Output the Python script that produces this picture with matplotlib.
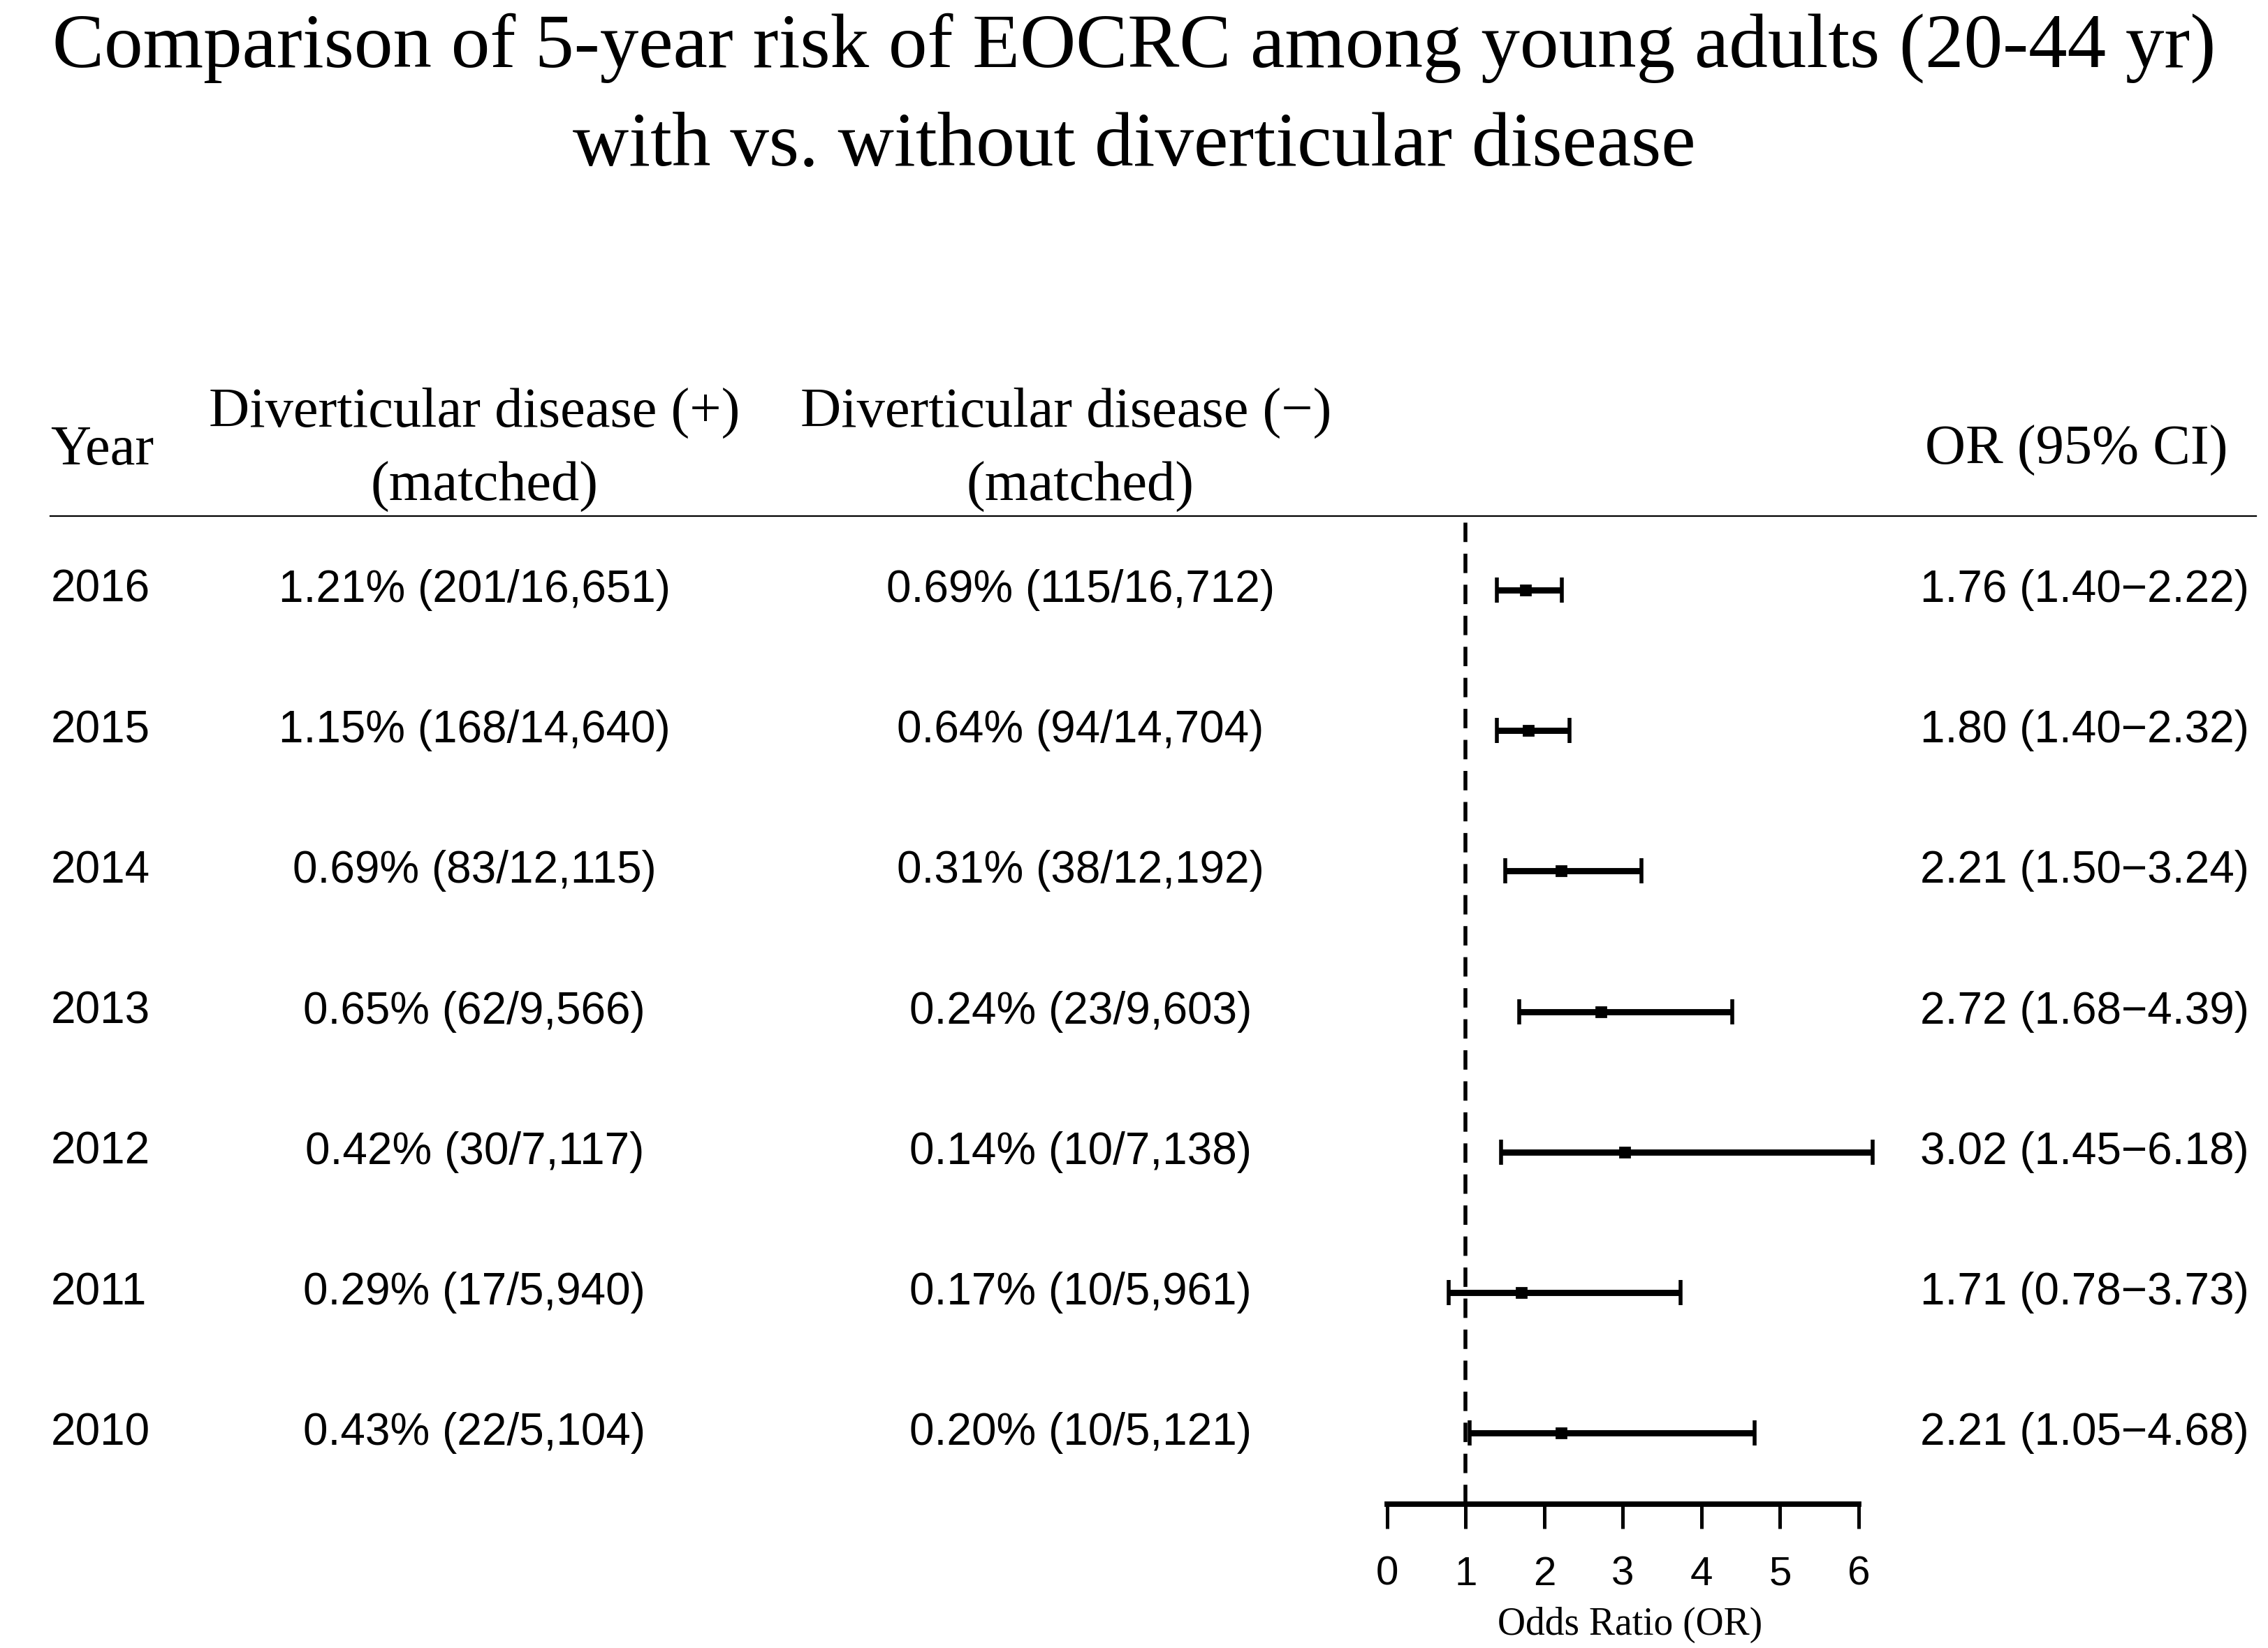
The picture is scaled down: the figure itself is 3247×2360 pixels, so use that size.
import numpy as np
import matplotlib
matplotlib.use("Agg")
import matplotlib.pyplot as plt

# data
years = ["2016", "2015", "2014", "2013", "2012", "2011", "2010"]
dd_pos = ["1.21% (201/16,651)", "1.15% (168/14,640)", "0.69% (83/12,115)",
          "0.65% (62/9,566)", "0.42% (30/7,117)", "0.29% (17/5,940)",
          "0.43% (22/5,104)"]
dd_neg = ["0.69% (115/16,712)", "0.64% (94/14,704)", "0.31% (38/12,192)",
          "0.24% (23/9,603)", "0.14% (10/7,138)", "0.17% (10/5,961)",
          "0.20% (10/5,121)"]
or_est = np.array([1.76, 1.80, 2.21, 2.72, 3.02, 1.71, 2.21])
ci_low = np.array([1.40, 1.40, 1.50, 1.68, 1.45, 0.78, 1.05])
ci_high = np.array([2.22, 2.32, 3.24, 4.39, 6.18, 3.73, 4.68])
or_ticks = [0, 1, 2, 3, 4, 5, 6]

title_lines = ["Comparison of 5-year risk of EOCRC among young adults (20-44 yr)",
               "with vs. without diverticular disease"]

SANS = "Liberation Sans"
SERIF = "Liberation Serif"

# layout measured on a 1568 x 1134 copy of the reference
W, H = 1568.0, 1134.0
row_top, row_step = 406.0, 96.7
n = len(years)
ypos = np.arange(n)[::-1]          # first year on top


def yv(p):
    # reference pixel row -> row units
    return (row_top + (n - 1) * row_step - p) / row_step


fig = plt.figure(figsize=(3247 / 200, 2360 / 200), dpi=200)

ax = fig.add_axes([0, 0, 1, 1])
ax.set_xlim(0, W)
ax.set_ylim(yv(H), yv(0))
ax.axis("off")

# title
ax.text(W / 2, yv(33), title_lines[0], ha="center", va="center",
        fontsize=40, family=SERIF)
ax.text(W / 2, yv(101), title_lines[1], ha="center", va="center",
        fontsize=40, family=SERIF)

# column headers
hdr = dict(fontsize=29, family=SERIF, va="center")
ax.text(35, yv(310), "Year", ha="left", **hdr)
ax.text(328, yv(284), "Diverticular disease (+)", ha="center", **hdr)
ax.text(335, yv(335), "(matched)", ha="center", **hdr)
ax.text(737, yv(284), "Diverticular disease (\u2212)", ha="center", **hdr)
ax.text(747, yv(335), "(matched)", ha="center", **hdr)
ax.text(1540, yv(310), "OR (95% CI)", ha="right", **hdr)
ax.axhline(yv(355), xmin=35 / W, xmax=1560 / W, color="black", lw=0.8)

# table body
body = dict(fontsize=23, family=SANS, va="center")
for y, yr, a, b, o, lo, hi in zip(ypos, years, dd_pos, dd_neg,
                                  or_est, ci_low, ci_high):
    ax.text(35, y, yr, ha="left", **body)
    ax.text(328, y, a, ha="center", **body)
    ax.text(747, y, b, ha="center", **body)
    ax.text(1555, y, f"{o:.2f} ({lo:.2f}\u2212{hi:.2f})", ha="right", **body)

ax.text(1127, yv(1118), "Odds Ratio (OR)", ha="center", va="center",
        fontsize=20, family=SERIF)

# forest panel
fa = fig.add_axes([959 / W, 1 - 1035 / H, (1285 - 959) / W, (1035 - 355) / H])
fa.set_xlim(0, 6)
fa.set_ylim(yv(1035), yv(355))
fa.patch.set_visible(False)
fa.axvline(1, color="black", lw=2, ls=(0, (5, 3)))
fa.errorbar(or_est, ypos, xerr=[or_est - ci_low, ci_high - or_est],
            fmt="s", color="black", ms=5, elinewidth=3.2,
            capsize=6.5, capthick=2, clip_on=False)
for s in ["left", "top", "right"]:
    fa.spines[s].set_visible(False)
fa.spines["bottom"].set_linewidth(2.8)
fa.set_yticks([])
fa.set_xticks(or_ticks)
fa.tick_params(axis="x", direction="out", length=12.5, width=1.8, pad=14,
               labelsize=21)
for lab in fa.get_xticklabels():
    lab.set_family(SANS)

fig.savefig("out.png", dpi=200)
